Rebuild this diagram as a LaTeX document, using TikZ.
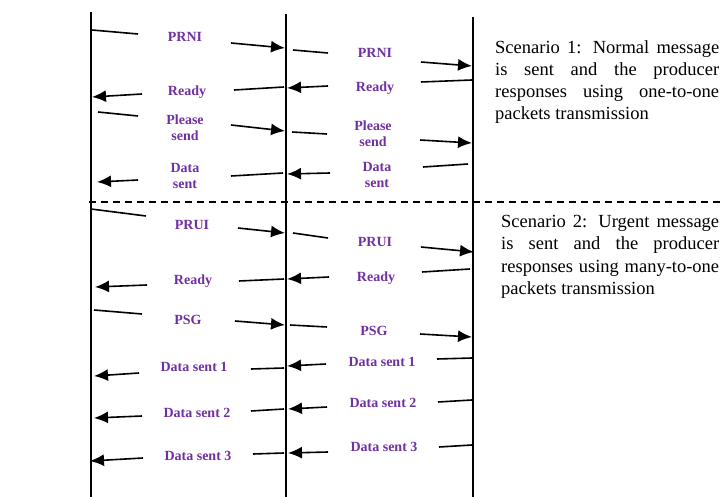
\documentclass[tikz,border=0pt]{standalone}
\usepackage{fontspec}
\setmainfont{Liberation Serif}
\usetikzlibrary{arrows.meta}
\definecolor{labcol}{RGB}{112,48,160}
\tikzset{
  seg/.style={line width=1.6pt},
  arr/.style={line width=1.6pt,-{Latex[length=14pt,width=12pt]}},
  lab/.style={text=labcol,font=\fontsize{14}{16}\selectfont\bfseries,align=center,inner sep=0pt},
  life/.style={line width=1.5pt},
  sep/.style={line width=2pt,dash pattern=on 7pt off 5pt},
  desc/.style={font=\fontsize{18.5}{22.3}\selectfont,align=justify,anchor=north west,inner sep=0pt}
}
\begin{document}
\begin{tikzpicture}[x=1pt,y=-1pt]
\useasboundingbox (0,0) rectangle (726,497);
% lifelines
\coordinate (Lt) at (91,12);  \coordinate (Lb) at (91,497);
\coordinate (Mt) at (286,14); \coordinate (Mb) at (286,497);
\coordinate (Rt) at (473,17); \coordinate (Rb) at (473,497);
\draw[life] (Lt) -- (Lb);
\draw[life] (Mt) -- (Mb);
\draw[life] (Rt) -- (Rb);
% separator
\coordinate (Sa) at (89,202); \coordinate (Sb) at (720,202);
\draw[sep] (Sa) -- (Sb);

% ---- Scenario 1 ----
% PRNI
\draw[seg] (92,30) -- (138,34);
\node[lab] (p1) at (185,37) {PRNI};
\draw[arr] (231,43) -- (285,48);
\draw[seg] (293,50) -- (328,53);
\node[lab] (p2) at (375,53) {PRNI};
\draw[arr] (421,62) -- (472,66);
% Ready
\draw[seg] (472,80) -- (421,82);
\node[lab] (r2) at (375,88) {Ready};
\draw[arr] (328,86) -- (287,88);
\draw[seg] (284,87) -- (234,90);
\node[lab] (r1) at (187,92) {Ready};
\draw[arr] (142,94) -- (92,97);
% Please send
\draw[seg] (98,112) -- (138,116);
\node[lab] (ps1) at (185,128) {Please\\send};
\draw[arr] (231,125) -- (285,131);
\draw[seg] (292,132) -- (327,134);
\node[lab] (ps2) at (373,134) {Please\\send};
\draw[arr] (420,140) -- (472,143);
% Data sent
\draw[seg] (468,164) -- (423,167);
\node[lab] (d2) at (377,175) {Data\\sent};
\draw[arr] (330,173) -- (287,174);
\draw[seg] (283,173) -- (231,176);
\node[lab] (d1) at (185,176) {Data\\sent};
\draw[arr] (138,180) -- (97,182);

% ---- Scenario 2 ----
% PRUI
\draw[seg] (91,209) -- (146,216);
\node[lab] (u1) at (192,225) {PRUI};
\draw[arr] (238,228) -- (285,233);
\draw[seg] (293,233) -- (328,238);
\node[lab] (u2) at (375,242) {PRUI};
\draw[arr] (421,247) -- (474,252);
% Ready
\draw[seg] (470,269) -- (422,272);
\node[lab] (rr2) at (376,278) {Ready};
\draw[arr] (329,277) -- (287,279);
\draw[seg] (284,279) -- (239,281);
\node[lab] (rr1) at (193,281) {Ready};
\draw[arr] (147,285) -- (95,287);
% PSG
\draw[seg] (94,310) -- (142,314);
\node[lab] (g1) at (188,320) {PSG};
\draw[arr] (235,321) -- (285,325);
\draw[seg] (290,325) -- (327,327);
\node[lab] (g2) at (374,331) {PSG};
\draw[arr] (420,334) -- (472,337);
% Data sent 1
\draw[seg] (472,358) -- (437,359);
\node[lab] (a2) at (382,362) {Data sent 1};
\draw[arr] (326,364) -- (287,366);
\draw[seg] (284,368) -- (251,369);
\node[lab] (a1) at (194,367) {Data sent 1};
\draw[arr] (139,373) -- (94,376);
% Data sent 2
\draw[seg] (472,400) -- (438,402);
\node[lab] (b2) at (383,403) {Data sent 2};
\draw[arr] (327,407) -- (288,409);
\draw[seg] (284,409) -- (251,411);
\node[lab] (b1) at (197,413) {Data sent 2};
\draw[arr] (142,416) -- (94,418);
% Data sent 3
\draw[seg] (472,445) -- (439,447);
\node[lab] (c2) at (384,447) {Data sent 3};
\draw[arr] (328,452) -- (288,453);
\draw[seg] (284,453) -- (253,454);
\node[lab] (c1) at (198,456) {Data sent 3};
\draw[arr] (143,458) -- (90,461);

% descriptions
\node[desc,text width=224pt] (s1) at (495,40) {Scenario 1: Normal message\linebreak is sent and the producer\linebreak responses using one-to-one\linebreak packets transmission};
\node[desc,text width=218pt] (s2) at (501,215) {Scenario 2: Urgent message\linebreak is sent and the producer\linebreak responses using many-to-one\linebreak packets transmission};
\end{tikzpicture}
\end{document}
